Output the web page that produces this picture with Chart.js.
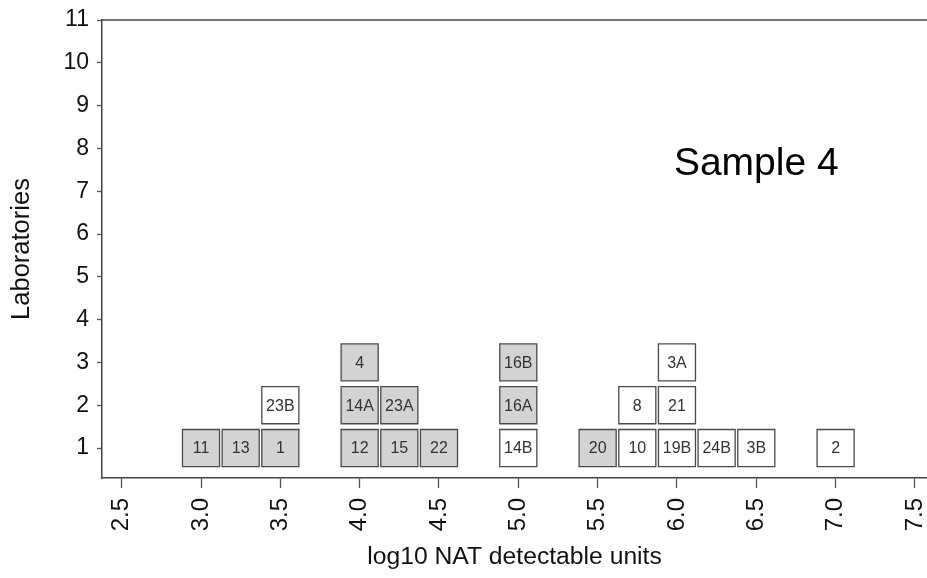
<!DOCTYPE html>
<html>
<head>
<meta charset="utf-8">
<script src="https://cdn.jsdelivr.net/npm/chart.js@4.4.0/dist/chart.umd.min.js"></script>
<style>
  html, body { margin: 0; padding: 0; background: #ffffff; }
  canvas { display: block; }
</style>
</head>
<body>
<canvas id="c" width="927" height="578"></canvas>
<script>
// ---- Data ----
const grayLabels = ['11', '13', '1', '12', '15', '22', '14A', '23A', '4', '16A', '16B', '20'];
const grayX      = [3.0, 3.25, 3.5, 4.0, 4.25, 4.5, 4.0, 4.25, 4.0, 5.0, 5.0, 5.5];
const grayY      = [1,   1,    1,   1,   1,    1,   2,   2,    3,   2,   3,   1];

const whiteLabels = ['23B', '14B', '10', '19B', '24B', '3B', '2', '8', '21', '3A'];
const whiteX      = [3.5,   5.0,   5.75, 6.0,   6.25,  6.5,  7.0, 5.75, 6.0, 6.0];
const whiteY      = [2,     1,     1,    1,     1,     1,    1,   2,    2,   3];

const xTicks = [2.5, 3.0, 3.5, 4.0, 4.5, 5.0, 5.5, 6.0, 6.5, 7.0, 7.5];
const yTicks = [1, 2, 3, 4, 5, 6, 7, 8, 9, 10, 11];

const xTitle = 'log10 NAT detectable units';
const yTitle = 'Laboratories';
const sampleText = 'Sample 4';
const sampleAt = { x: 6.5, y: 7.62 };

// ---- Build datasets ----
function toPoints(xs, ys, labels) {
  return xs.map((x, i) => ({ x: x, y: ys[i], label: labels[i] }));
}

const FONT = "'Liberation Sans', Arial, sans-serif";

const boxLabelPlugin = {
  id: 'boxLabels',
  afterDatasetsDraw(chart) {
    const ctx = chart.ctx;
    ctx.save();
    ctx.font = '16px ' + FONT;
    ctx.fillStyle = '#333333';
    ctx.textAlign = 'center';
    ctx.textBaseline = 'middle';
    chart.data.datasets.forEach((ds, di) => {
      const meta = chart.getDatasetMeta(di);
      meta.data.forEach((el, i) => {
        ctx.fillText(ds.data[i].label, el.x, el.y + 1);
      });
    });
    ctx.restore();
  }
};

const framePlugin = {
  id: 'frame',
  afterDraw(chart) {
    const ctx = chart.ctx;
    const a = chart.chartArea;
    ctx.save();
    ctx.strokeStyle = '#444444';
    ctx.lineWidth = 1.5;
    ctx.beginPath();
    ctx.moveTo(a.left, a.top);
    ctx.lineTo(a.right, a.top);
    ctx.stroke();
    // sample annotation
    ctx.font = '39px ' + FONT;
    ctx.fillStyle = '#000000';
    ctx.textAlign = 'center';
    ctx.textBaseline = 'middle';
    ctx.fillText(sampleText, chart.scales.x.getPixelForValue(sampleAt.x), chart.scales.y.getPixelForValue(sampleAt.y));
    ctx.restore();
  }
};

const boxCommon = {
  pointStyle: 'rect',
  pointRadius: 26.2,
  pointHoverRadius: 26.2,
  borderColor: '#4a4a4a',
  borderWidth: 1.3,
  showLine: false
};

new Chart(document.getElementById('c'), {
  type: 'scatter',
  data: {
    datasets: [
      Object.assign({ label: 'gray', data: toPoints(grayX, grayY, grayLabels), backgroundColor: '#d3d3d3', pointBackgroundColor: '#d3d3d3' }, boxCommon),
      Object.assign({ label: 'white', data: toPoints(whiteX, whiteY, whiteLabels), backgroundColor: '#ffffff', pointBackgroundColor: '#ffffff' }, boxCommon)
    ]
  },
  options: {
    responsive: false,
    animation: false,
    events: [],
    layout: { autoPadding: false, padding: { top: 20, right: 0, left: 0, bottom: 0 } },
    plugins: { legend: { display: false }, tooltip: { enabled: false } },
    scales: {
      x: {
        type: 'linear',
        min: 2.376,
        max: 7.576,
        afterBuildTicks(scale) { scale.ticks = xTicks.map(v => ({ value: v })); },
        afterFit(scale) { scale.height = 100; scale.paddingLeft = 0; scale.paddingRight = 0; },
        ticks: {
          minRotation: 90, maxRotation: 90, autoSkip: false,
          padding: 10,
          color: '#111111',
          font: { family: FONT, size: 24 },
          callback: v => Number(v).toFixed(1)
        },
        grid: { display: true, drawOnChartArea: false, drawTicks: true, tickLength: 10, color: '#555555', tickWidth: 1.3 },
        border: { display: true, color: '#444444', width: 1.5 },
        title: { display: true, text: xTitle, color: '#111111', font: { family: FONT, size: 24.7 }, padding: { top: 0, bottom: 6 } }
      },
      y: {
        type: 'linear',
        min: 0.3,
        max: 11,
        afterBuildTicks(scale) { scale.ticks = yTicks.map(v => ({ value: v })); },
        afterFit(scale) { scale.width = 102; scale.paddingTop = 0; scale.paddingBottom = 0; },
        ticks: {
          padding: 8,
          color: '#111111',
          font: { family: FONT, size: 23 },
          callback: v => String(v)
        },
        grid: { display: true, drawOnChartArea: false, drawTicks: true, tickLength: 5, color: '#555555', tickWidth: 1.3 },
        border: { display: true, color: '#444444', width: 1.5 },
        title: { display: true, text: yTitle, color: '#111111', font: { family: FONT, size: 25.5 }, padding: { top: 7, bottom: 0 } }
      }
    }
  },
  plugins: [boxLabelPlugin, framePlugin]
});
</script>
</body>
</html>
